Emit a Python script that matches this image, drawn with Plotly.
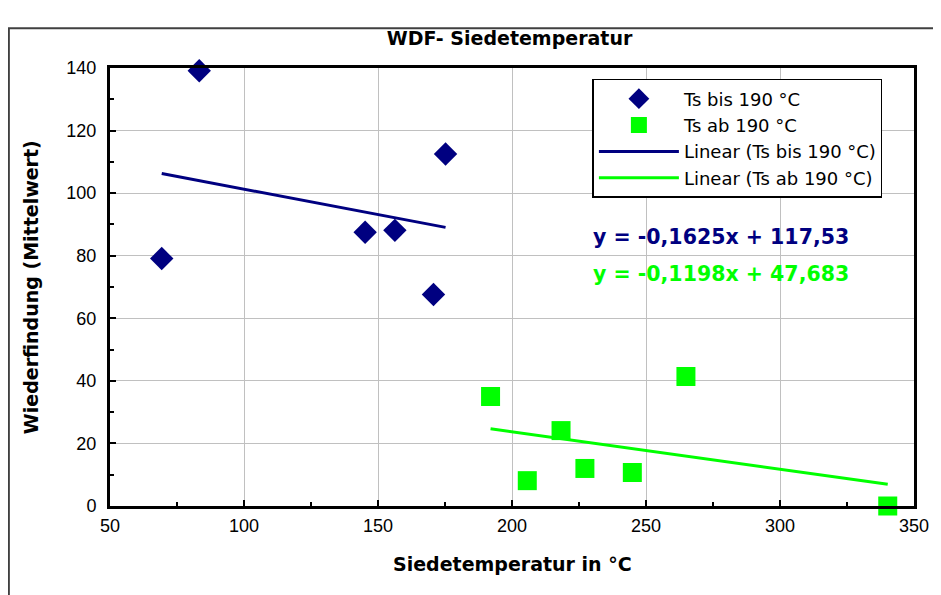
import plotly.graph_objects as go

# Data
ts_bis_x = [69.3, 83.3, 145.2, 156.3, 170.7, 175.2]
ts_bis_y = [79.1, 139.1, 87.5, 88.1, 67.6, 112.5]
ts_ab_x = [192.0, 205.7, 218.3, 227.2, 244.9, 264.9, 340.2]
ts_ab_y = [35.0, 8.1, 24.1, 12.0, 10.7, 41.4, 0.0]
fit_bis = [-0.1625, 117.53]   # slope, intercept
fit_ab = [-0.1198, 47.683]
eq_bis = "y = -0,1625x + 117,53"
eq_ab = "y = -0,1198x + 47,683"

NAVY = "#000080"
GREEN = "#00FF00"
FONT = "Liberation Sans, Arial, sans-serif"
BOLD = "DejaVu Sans, Liberation Sans, sans-serif"

def trend(xs, fit):
    x0, x1 = min(xs), max(xs)
    return [x0, x1], [fit[0] * x0 + fit[1], fit[0] * x1 + fit[1]]

fig = go.Figure()
fig.add_trace(go.Scatter(x=ts_bis_x, y=ts_bis_y, mode="markers", name="Ts bis 190 °C",
                         marker=dict(symbol="diamond", size=18, color=NAVY), cliponaxis=False))
fig.add_trace(go.Scatter(x=ts_ab_x, y=ts_ab_y, mode="markers", name="Ts ab 190 °C",
                         marker=dict(symbol="square", size=19, color=GREEN), cliponaxis=False))
tx, ty = trend(ts_bis_x, fit_bis)
fig.add_trace(go.Scatter(x=tx, y=ty, mode="lines", name="Linear (Ts bis 190 °C)",
                         line=dict(color=NAVY, width=3)))
tx, ty = trend(ts_ab_x, fit_ab)
fig.add_trace(go.Scatter(x=tx, y=ty, mode="lines", name="Linear (Ts ab 190 °C)",
                         line=dict(color=GREEN, width=3)))

axis_common = dict(showline=True, mirror=True, linecolor="black", linewidth=3,
                   showgrid=True, gridcolor="#c0c0c0", gridwidth=1,
                   ticks="inside", ticklen=6, tickwidth=2, tickcolor="black",
                   zeroline=False, tickfont=dict(family=FONT, size=18, color="black"))

fig.update_xaxes(range=[50, 350], dtick=50, tick0=50,
                 minor=dict(dtick=25, ticks="inside", ticklen=4, tickcolor="black", showgrid=False),
                 ticklabelstandoff=1, **axis_common)
fig.update_yaxes(range=[0, 140], dtick=20,
                 minor=dict(dtick=10, ticks="inside", ticklen=4, tickcolor="black", showgrid=False),
                 ticklabelstandoff=7, **axis_common)

# axis titles
fig.add_annotation(xref="paper", yref="paper", x=0.5, y=-0.132, xanchor="center", yanchor="middle",
                   text="<b>Siedetemperatur in °C</b>", showarrow=False,
                   font=dict(family=BOLD, size=19, color="black"))
fig.add_annotation(xref="paper", yref="paper", x=-0.098, y=0.5, xanchor="center", yanchor="middle",
                   text="<b>Wiederfindung (Mittelwert)</b>", showarrow=False, textangle=-90,
                   font=dict(family=BOLD, size=19, color="black"))

# trendline equations
fig.add_annotation(xref="paper", yref="paper", x=0.598, y=0.614, xanchor="left", yanchor="middle",
                   text="<b>" + eq_bis + "</b>", showarrow=False,
                   font=dict(family=BOLD, size=20.5, color=NAVY))
fig.add_annotation(xref="paper", yref="paper", x=0.598, y=0.530, xanchor="left", yanchor="middle",
                   text="<b>" + eq_ab + "</b>", showarrow=False,
                   font=dict(family=BOLD, size=20.5, color=GREEN))

# chart-area border
fig.add_shape(type="rect", xref="paper", yref="paper", x0=-0.1258, x1=1.2, y0=-0.4, y1=1.091,
              line=dict(color="#404040", width=2), layer="below")

fig.update_layout(
    width=933, height=587,
    margin=dict(l=102, r=20, t=60, b=89),
    paper_bgcolor="white", plot_bgcolor="white",
    title=dict(text="<b>WDF- Siedetemperatur</b>", x=501.5/933, xanchor="center",
               y=1 - 30/587, yanchor="middle", yref="container",
               font=dict(family=BOLD, size=19, color="black")),
    showlegend=True,
    legend=dict(x=0.600, y=0.975, xanchor="left", yanchor="top",
                bgcolor="white", bordercolor="black", borderwidth=1.5,
                font=dict(family=BOLD, size=18, color="black"),
                itemwidth=80, tracegroupgap=0),
)

fig.write_html("out.html")
